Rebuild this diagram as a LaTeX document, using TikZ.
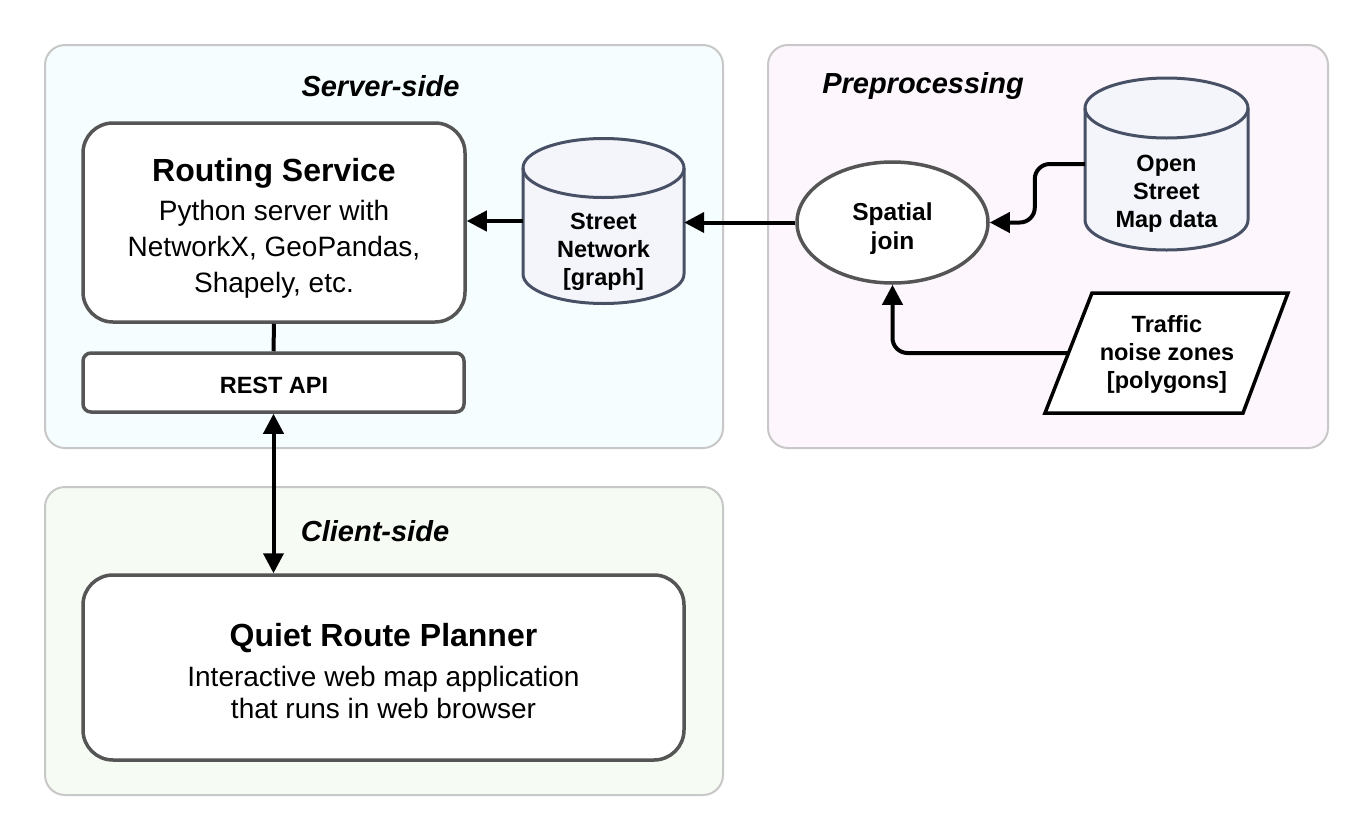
\documentclass[tikz,border=0pt]{standalone}
\usepackage{fontspec}
\setmainfont{Liberation Sans}
\usetikzlibrary{arrows.meta,shapes.geometric}
\definecolor{grpborder}{HTML}{C8C8C8}
\definecolor{serverfill}{HTML}{F5FDFE}
\definecolor{prefill}{HTML}{FDF7FD}
\definecolor{clientfill}{HTML}{F6FBF4}
\definecolor{boxborder}{HTML}{555555}
\definecolor{cylborder}{HTML}{485066}
\definecolor{cylfill}{HTML}{F3F5FA}
\begin{document}
\begin{tikzpicture}[x=1pt,y=1pt,
  group/.style={draw=grpborder, line width=2pt, rounded corners=20pt},
  boxstyle/.style={draw=boxborder, line width=3.5pt, fill=white, inner sep=0pt},
  cyl/.style={draw=cylborder, line width=3pt, fill=cylfill},
  arr/.style={line width=4pt, -{Triangle[length=20pt,width=20pt]}},
  darr/.style={line width=4pt, {Triangle[length=20pt,width=20pt]}-{Triangle[length=20pt,width=20pt]}},
  grplabel/.style={font=\fontsize{29}{34}\selectfont\bfseries\itshape},
  title/.style={font=\fontsize{32}{38}\selectfont\bfseries},
  body/.style={font=\fontsize{28}{36}\selectfont, align=center},
  small/.style={font=\fontsize{23.5}{28}\selectfont\bfseries, align=center},
  anchorbox/.style={draw=none, inner sep=0pt}
]
\useasboundingbox (0,0) rectangle (1369,-836);
\fill[white] (0,0) rectangle (1369,-836);

% groups
\draw[group, fill=serverfill] (45,-45) rectangle (723,-448);
\draw[group, fill=prefill] (768,-45) rectangle (1328,-448);
\draw[group, fill=clientfill] (45,-487) rectangle (723,-795);

\node[grplabel] (lserver) at (380.5,-86) {Server-side};
\node[grplabel] (lpre) at (923,-86) {Preprocessing};
\node[grplabel] (lclient) at (375,-531) {Client-side};

% Routing service
\node[boxstyle, rounded corners=30pt, minimum width=382pt, minimum height=199pt] (rs) at (274,-222.5) {};
\node[title] (rst) at (274,-173) {Routing Service};
\node[body] (rsb) at (274,-249) {Python server with\\NetworkX, GeoPandas,\\Shapely, etc.};

% REST API
\node[boxstyle, rounded corners=8pt, minimum width=381pt, minimum height=59pt] (api) at (273.5,-382.5) {};
\node[small] (apit) at (274,-385) {REST API};

% Quiet route planner
\node[boxstyle, rounded corners=30pt, minimum width=601pt, minimum height=185pt] (qrp) at (383.5,-667.5) {};
\node[title] (qrpt) at (383.5,-638) {Quiet Route Planner};
\node[body, font=\fontsize{28}{32}\selectfont] (qrpb) at (383.5,-692) {Interactive web map application\\that runs in web browser};

% Street network cylinder
\node[anchorbox, minimum width=161pt, minimum height=166pt] (sn) at (603.5,-221) {};
\filldraw[cyl] (523,-168) -- (523,-274) arc[start angle=180, end angle=360, x radius=80.5, y radius=29.5]
  -- (684,-168) arc[start angle=0, end angle=180, x radius=80.5, y radius=29.5] -- cycle;
\draw[cyl, fill=none] (523,-168) arc[start angle=180, end angle=360, x radius=80.5, y radius=29.5];
\node[small] (snt) at (603.5,-252) {Street\\Network\\{[graph]}};

% OSM cylinder
\node[anchorbox, minimum width=163pt, minimum height=172pt] (osm) at (1166.5,-164) {};
\filldraw[cyl] (1085,-108) -- (1085,-220) arc[start angle=180, end angle=360, x radius=81.5, y radius=30]
  -- (1248,-108) arc[start angle=0, end angle=180, x radius=81.5, y radius=30] -- cycle;
\draw[cyl, fill=none] (1085,-108) arc[start angle=180, end angle=360, x radius=81.5, y radius=30];
\node[small] (osmt) at (1166.5,-193.5) {Open\\Street\\Map data};

% Spatial join
\node[draw=boxborder, line width=3.5pt, fill=white, ellipse, minimum width=191pt, minimum height=121pt, inner sep=0pt] (sj) at (892.5,-222.5) {};
\node[small, font=\fontsize{24.5}{29}\selectfont\bfseries] (sjt) at (892.5,-228.5) {Spatial\\join};

% Traffic parallelogram
\filldraw[draw=black, fill=white, line width=3.5pt, line join=miter] (1092,-293) -- (1288,-293) -- (1243,-413) -- (1045,-413) -- cycle;
\coordinate (trw) at (1068.5,-353);
\node[small] (trt) at (1167,-354) {Traffic\\noise zones\\{[polygons]}};

% connectors
\draw[line width=4pt] (rs.south) -- (api.north);
\draw[arr] (sn.west) -- (rs.east |- sn.west);
\draw[arr] (sj.west) -- (sn.east |- sj.west);
\draw[arr, rounded corners=15pt] (osm.west) -- ++(-50,0) |- (sj.east);
\draw[arr, rounded corners=15pt] (trw) -| (sj.south);
\draw[darr] (api.south) -- (api.south |- qrp.north);
\end{tikzpicture}
\end{document}
